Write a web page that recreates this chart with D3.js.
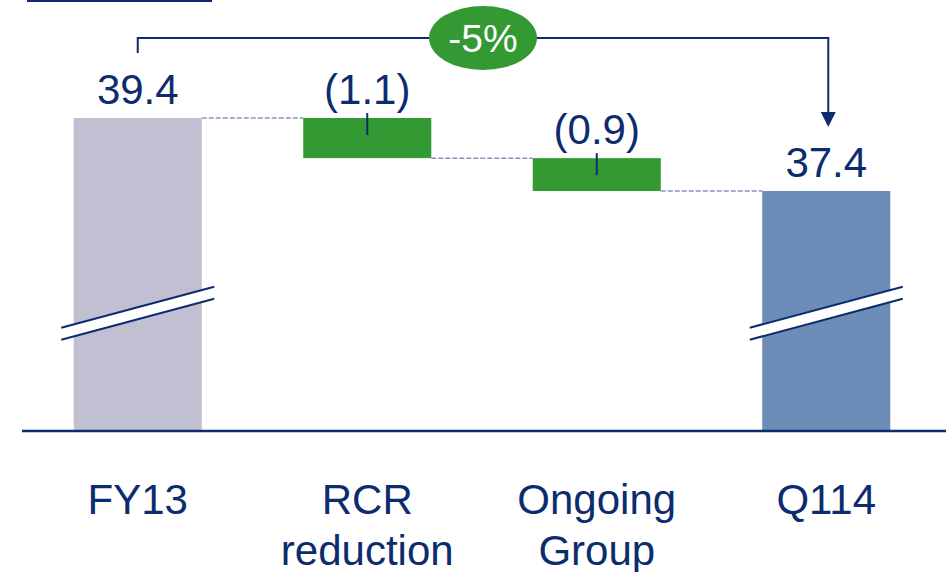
<!DOCTYPE html>
<html>
<head>
<meta charset="utf-8">
<script src="https://cdn.jsdelivr.net/npm/d3@7"></script>
<style>
  html, body { margin: 0; padding: 0; background: #fff; }
  svg { display: block; font-family: Arial, "Liberation Sans", sans-serif; }
</style>
</head>
<body>
<svg id="chart" width="946" height="572"></svg>
<script>
// ---- data ----
const categories = [["FY13"], ["RCR", "reduction"], ["Ongoing", "Group"], ["Q114"]];
const kinds = ["total", "delta", "delta", "total"];
const values = [39.4, -1.1, -0.9, 37.4];
const valueLabels = ["39.4", "(1.1)", "(0.9)", "37.4"];
const changeLabel = "-5%";
const breakValue = 34.05;

// ---- colours ----
const navy = "#0c2c6e";
const barColors = { first: "#c0c0d2", last: "#6e8cb8", delta: "#339933" };

const svg = d3.select("#chart");

// compute waterfall spans
let running = 0;
const bars = values.map((v, i) => {
  let y0, y1;
  if (kinds[i] === "total") { y0 = 30.85; y1 = v; running = v; }
  else { y0 = running; y1 = running + v; running = y1; }
  return { i, v, y0, y1, top: Math.max(y0, y1), bottom: Math.min(y0, y1), kind: kinds[i] };
});

const x = d3.scalePoint().domain(d3.range(categories.length)).range([23, 941]).padding(0.5);
const step = x.step();
const bw = step * 0.558;
const y = d3.scaleLinear().domain([30.85, 39.4]).range([430, 118]);

// bars
svg.selectAll("rect.bar").data(bars).join("rect")
  .attr("x", d => x(d.i) - bw / 2)
  .attr("y", d => y(d.top))
  .attr("width", bw)
  .attr("height", d => y(d.bottom) - y(d.top))
  .attr("fill", d => d.kind === "delta" ? barColors.delta : (d.i === 0 ? barColors.first : barColors.last));

// connectors
for (let k = 0; k < bars.length - 1; k++) {
  const lvl = bars[k].y1;
  svg.append("line")
    .attr("x1", x(k) + bw / 2).attr("x2", x(k + 1) - bw / 2)
    .attr("y1", y(lvl)).attr("y2", y(lvl))
    .attr("stroke", "#8797ba").attr("stroke-width", 1.5)
    .attr("stroke-dasharray", "5,2");
}

// small leader ticks in delta bars
bars.filter(d => d.kind === "delta").forEach(d => {
  svg.append("line")
    .attr("x1", x(d.i)).attr("x2", x(d.i))
    .attr("y1", y(d.top) - 5).attr("y2", y(d.top) + 17)
    .attr("stroke", navy).attr("stroke-width", 2);
});

// break marks on total bars
bars.filter(d => d.kind === "total").forEach(d => {
  const cx = x(d.i), cy = y(breakValue);
  const hw = 76.5, rise = 20.5, gap = 12;
  const p1 = [cx - hw, cy + rise - gap / 2], p2 = [cx + hw, cy - rise - gap / 2];
  svg.append("polygon")
    .attr("points", [p1, p2, [p2[0], p2[1] + gap], [p1[0], p1[1] + gap]].map(p => p.join(",")).join(" "))
    .attr("fill", "#fff");
  [0, gap].forEach(o => {
    svg.append("line")
      .attr("x1", p1[0]).attr("y1", p1[1] + o)
      .attr("x2", p2[0]).attr("y2", p2[1] + o)
      .attr("stroke", navy).attr("stroke-width", 2);
  });
});

// axis baseline
svg.append("line").attr("x1", 22).attr("x2", 946).attr("y1", y(30.85) + 1).attr("y2", y(30.85) + 1)
  .attr("stroke", navy).attr("stroke-width", 2.5);

// value labels
svg.selectAll("text.val").data(bars).join("text")
  .attr("x", d => x(d.i))
  .attr("y", d => y(d.top) - 14)
  .attr("text-anchor", "middle")
  .attr("font-size", 42)
  .attr("fill", navy)
  .text(d => valueLabels[d.i]);

// category labels
categories.forEach((lines, i) => {
  const t = svg.append("text").attr("text-anchor", "middle").attr("font-size", 42).attr("fill", navy);
  lines.forEach((ln, j) => {
    t.append("tspan").attr("x", x(i)).attr("y", 514 + j * 51).text(ln);
  });
});

// top-left rule
svg.append("line").attr("x1", 27).attr("x2", 212).attr("y1", 1).attr("y2", 1)
  .attr("stroke", navy).attr("stroke-width", 2);

// bracket with arrow
const bx0 = x(0), bx1 = x(3) + 2, by = 38;
svg.append("path")
  .attr("d", `M${bx0},53 V${by} H${bx1} V114`)
  .attr("fill", "none").attr("stroke", navy).attr("stroke-width", 2);
svg.append("path")
  .attr("d", `M${bx1 - 7.5},112 L${bx1 + 7.5},112 L${bx1},127 Z`)
  .attr("fill", navy);

// change bubble
svg.append("ellipse").attr("cx", 483).attr("cy", 38).attr("rx", 54).attr("ry", 32).attr("fill", "#339933");
svg.append("text").attr("x", 483).attr("y", 52).attr("text-anchor", "middle")
  .attr("font-size", 39).attr("fill", "#fff").text(changeLabel);
</script>
</body>
</html>
